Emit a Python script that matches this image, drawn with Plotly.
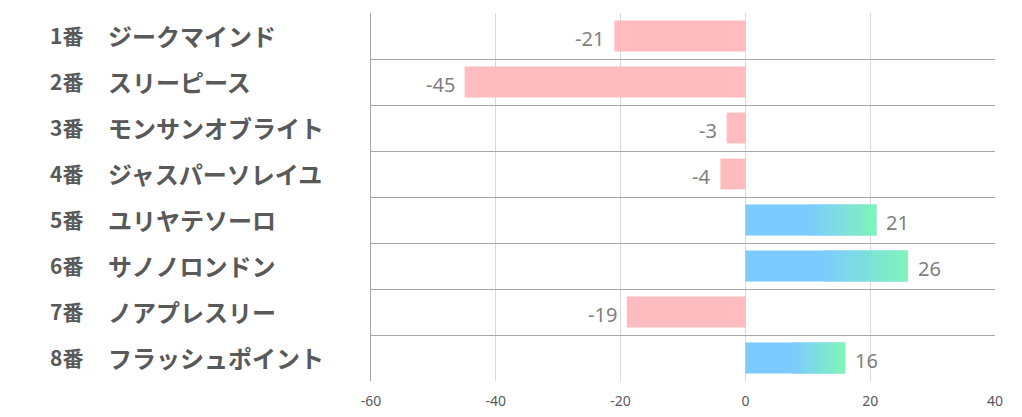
import plotly.graph_objects as go

numbers = ["1番", "2番", "3番", "4番", "5番", "6番", "7番", "8番"]
names = ["ジークマインド", "スリーピース", "モンサンオブライト", "ジャスパーソレイユ",
         "ユリヤテソーロ", "サノノロンドン", "ノアプレスリー", "フラッシュポイント"]
values = [-21, -45, -3, -4, 21, 26, -19, 16]
x_ticks = [-60, -40, -20, 0, 20, 40]
x_tick_labels = ["-60", "-40", "-20", "0", "20", "40"]

PINK = "#ffbcbf"
BLUE = (124, 203, 255)
GREEN = (127, 245, 184)

rows = list(range(len(values)))
W, H = 1022, 417
ML, MR, MT, MB = 371, 27, 13, 36

fig = go.Figure()

base_colors = [PINK if v < 0 else "rgb(%d,%d,%d)" % BLUE for v in values]
fig.add_trace(go.Bar(
    y=rows, x=values, orientation="h", width=0.67,
    marker=dict(color=base_colors, line=dict(width=0)),
    hoverinfo="skip",
))

# gradient overlay on the outer half of positive bars
N = 30
gy, gx, gb, gc = [], [], [], []
for r, v in zip(rows, values):
    if v <= 0:
        continue
    start = 0.48 * v
    seg = (v - start) / N
    for i in range(N):
        t = (i + 0.5) / N
        c = tuple(round(BLUE[k] + (GREEN[k] - BLUE[k]) * t) for k in range(3))
        gy.append(r)
        gb.append(start + i * seg)
        gx.append(seg * 1.15 if i < N - 1 else seg)
        gc.append("rgb(%d,%d,%d)" % c)
fig.add_trace(go.Bar(
    y=gy, x=gx, base=gb, orientation="h", width=0.67,
    marker=dict(color=gc, line=dict(width=0)), hoverinfo="skip",
))

annotations = []
for r, num, nm, v in zip(rows, numbers, names, values):
    annotations.append(dict(xref="paper", yref="y", x=(48 - ML) / (W - ML - MR), y=r, yshift=1,
                            xanchor="left", yanchor="middle", text="<b>%s</b>" % num, showarrow=False,
                            font=dict(family="Noto Sans CJK JP", size=21, color="#595959")))
    annotations.append(dict(xref="paper", yref="y", x=(106 - ML) / (W - ML - MR), y=r, yshift=1,
                            xanchor="left", yanchor="middle", text="<b>%s</b>" % nm, showarrow=False,
                            font=dict(family="Noto Sans CJK JP", size=24, color="#595959")))
    annotations.append(dict(xref="x", yref="y", x=v, y=r, yshift=-2,
                            xanchor="right" if v < 0 else "left",
                            xshift=-8 if v < 0 else 8, yanchor="middle",
                            text=str(v), showarrow=False,
                            font=dict(family="Noto Sans", size=20, color="#7f7f7f")))

fig.update_layout(
    width=W, height=H, barmode="overlay", showlegend=False,
    margin=dict(l=ML, r=MR, t=MT, b=MB, autoexpand=False),
    paper_bgcolor="white", plot_bgcolor="white",
    annotations=annotations,
    xaxis=dict(range=[-60, 40], tickvals=x_ticks, ticktext=x_tick_labels,
               showgrid=True, gridcolor="#d9d9d9", automargin=False,
               gridwidth=1, zeroline=False, showline=False, ticks="", ticklabelstandoff=10,
               tickfont=dict(family="Noto Sans", size=14, color="#595959")),
    yaxis=dict(range=[7.5, -0.5], tickvals=[r - 0.5 for r in rows] + [len(rows) - 0.5],
               showticklabels=False, showgrid=True, gridcolor="#a6a6a6", gridwidth=1,
               automargin=False,
               zeroline=False, showline=True, linecolor="#a6a6a6", linewidth=1, ticks=""),
)

fig.write_html("out.html")
